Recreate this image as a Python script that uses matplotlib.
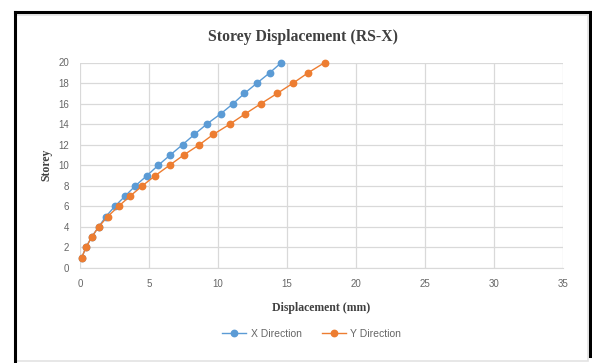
import matplotlib.pyplot as plt
from matplotlib.lines import Line2D
from matplotlib.patches import Rectangle

# storey displacement per floor, response spectrum in X
storeys = list(range(1, 21))
x_direction = [0.12, 0.43, 0.84, 1.35, 1.87, 2.52, 3.27, 4.01, 4.86, 5.67,
               6.54, 7.43, 8.29, 9.18, 10.19, 11.10, 11.92, 12.83, 13.75, 14.60]
y_direction = [0.12, 0.43, 0.84, 1.35, 2.00, 2.79, 3.63, 4.52, 5.46, 6.49,
               7.52, 8.65, 9.66, 10.86, 11.97, 13.12, 14.30, 15.45, 16.53, 17.74]
x_ticks = [0, 5, 10, 15, 20, 25, 30, 35]
y_ticks = [0, 2, 4, 6, 8, 10, 12, 14, 16, 18, 20]

blue = "#5B9BD5"
orange = "#ED7D31"
grid_col = "#D9D9D9"
text_col = "#666666"

W, H = 592, 363
fig = plt.figure(figsize=(W / 100, H / 100), dpi=100)

# chart frame: light grey box plus black edges of the surrounding border
fig.patches.append(Rectangle((16 / W, 1 - 361 / H), 572 / W, 346 / H,
                             transform=fig.transFigure, fill=False,
                             edgecolor="#E3E3E3", linewidth=1.2))
fig.add_artist(Line2D([15 / W, 15 / W], [0, 1 - 12 / H], transform=fig.transFigure,
                      color="black", linewidth=2.2))
fig.add_artist(Line2D([15 / W, 590 / W], [1 - 12 / H, 1 - 12 / H], transform=fig.transFigure,
                      color="black", linewidth=2.2))
fig.add_artist(Line2D([590 / W, 590 / W], [0.02, 1 - 12 / H], transform=fig.transFigure,
                      color="black", linewidth=2.2))

ax = fig.add_axes([80 / W, 1 - 268 / H, 483 / W, 205.5 / H])

ax.plot(x_direction, storeys, color=blue, linewidth=1.0, marker="o",
        markersize=4.6, label="X Direction", zorder=3, clip_on=False)
ax.plot(y_direction, storeys, color=orange, linewidth=1.0, marker="o",
        markersize=4.6, label="Y Direction", zorder=3, clip_on=False)

ax.set_xlim(0, 35)
ax.set_ylim(0, 20)
ax.set_xticks(x_ticks)
ax.set_yticks(y_ticks)
ax.grid(True, color=grid_col, linewidth=0.9)
ax.set_axisbelow(True)
for side in ["top", "right", "left"]:
    ax.spines[side].set_visible(False)
ax.spines["bottom"].set_color(grid_col)
ax.tick_params(length=0, labelsize=7, colors=text_col, pad=8)
for lbl in ax.get_xticklabels() + ax.get_yticklabels():
    lbl.set_family("Liberation Sans")

ax.set_xlabel("Displacement (mm)", family="Liberation Serif", fontweight="bold",
              fontsize=8.5, color="#404040", labelpad=9)
ax.set_ylabel("Storey", family="Liberation Serif", fontweight="bold",
              fontsize=8.5, color="#404040", labelpad=4)

fig.text(303 / W, 1 - 37 / H, "Storey Displacement (RS-X)", ha="center", va="center",
         family="Liberation Serif", fontweight="bold", fontsize=11.3, color="#404040")

leg = ax.legend(loc="center", bbox_to_anchor=(0.48, -0.32), ncol=2, frameon=False,
                handlelength=2.3, columnspacing=2.0, handletextpad=0.4,
                prop={"family": "Liberation Sans", "size": 7.5})
for t in leg.get_texts():
    t.set_color(text_col)

fig.savefig("out.png", dpi=100, facecolor="white")
